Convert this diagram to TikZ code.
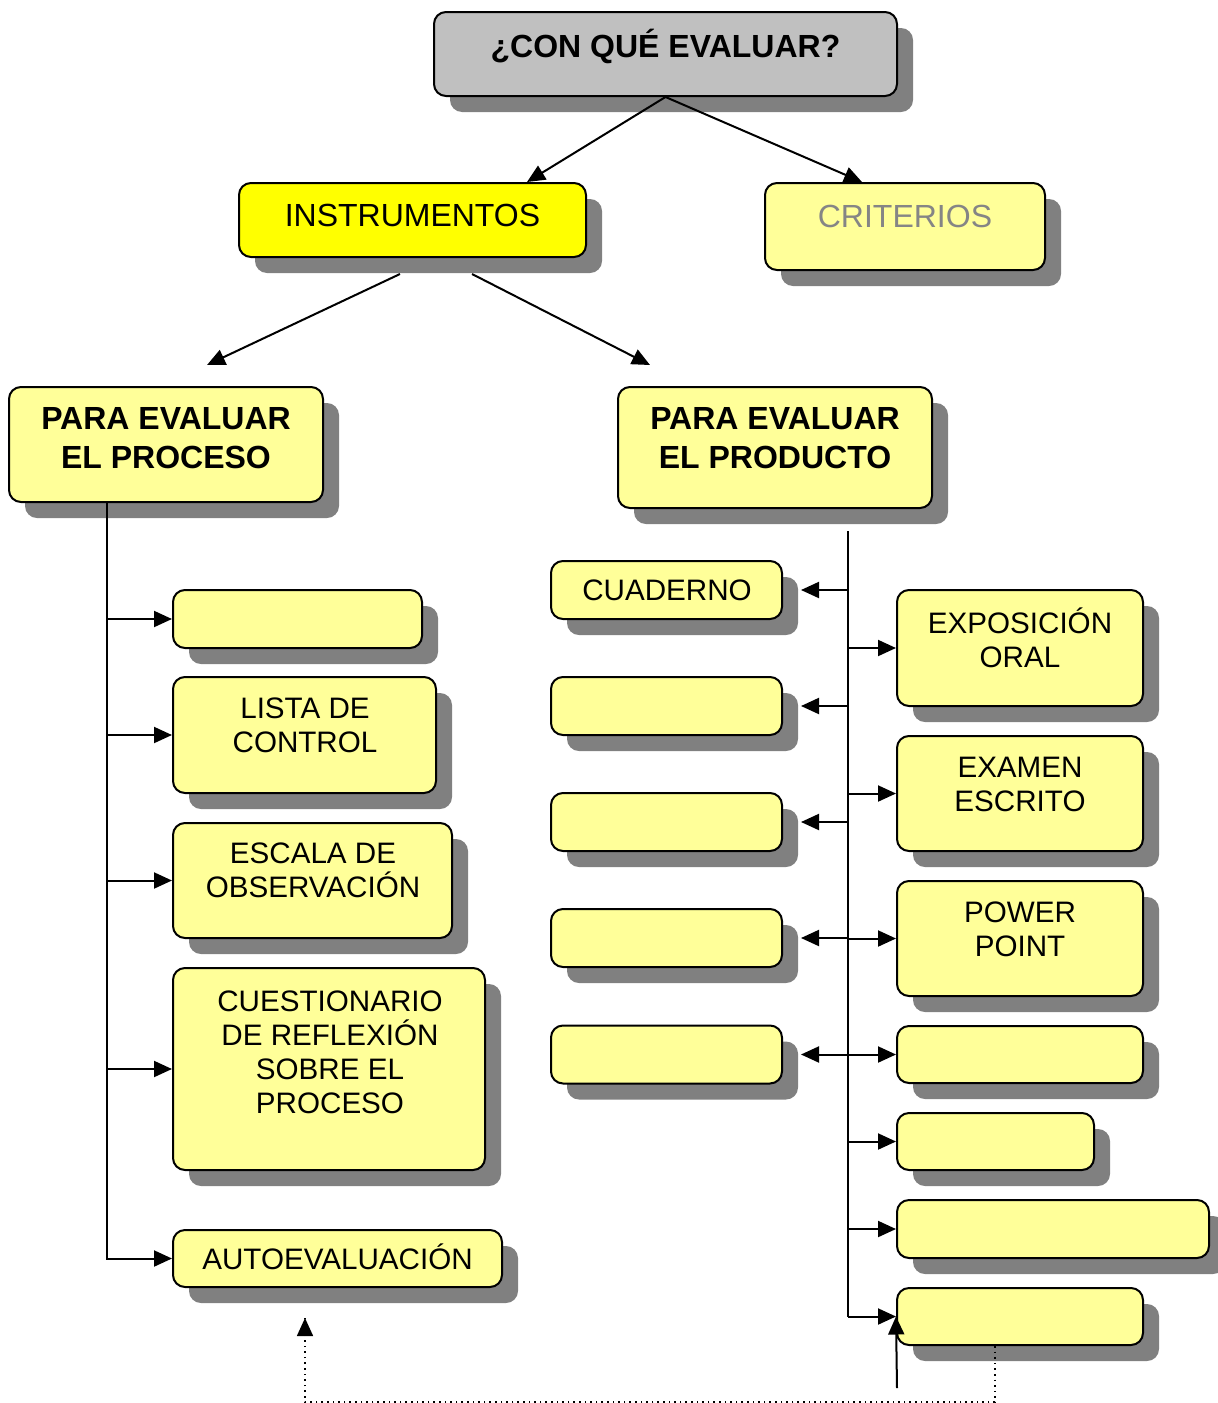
\documentclass[tikz,border=0pt]{standalone}
\usepackage{fontspec}
\setmainfont{Liberation Sans}
\usetikzlibrary{arrows.meta,shadows,calc}
\definecolor{lyel}{HTML}{FFFF99}
\definecolor{byel}{HTML}{FFFF00}
\definecolor{topgray}{HTML}{C0C0C0}
\definecolor{shgray}{HTML}{808080}
\definecolor{critgray}{HTML}{858585}
\begin{document}
\begin{tikzpicture}[x=0.5pt,y=-0.5pt,
  box/.style={draw=black,line width=1pt,rounded corners=6pt,fill=lyel,inner sep=0pt,
    drop shadow={shadow xshift=8pt,shadow yshift=-8pt,opacity=1,fill=shgray}},
  txt/.style={align=center,font=\fontsize{16pt}{17pt}\selectfont,inner sep=0pt},
  stxt/.style={align=center,font=\fontsize{14.8pt}{17pt}\selectfont,inner sep=0pt},
  btxt/.style={align=center,font=\fontsize{16pt}{19.5pt}\selectfont\bfseries,inner sep=0pt},
  conn/.style={line width=1pt,-{Triangle[length=9pt,width=8pt]}},
  trunk/.style={line width=1pt},
  dotline/.style={dotted,line width=0.8pt}]
\useasboundingbox (0,0) rectangle (1217,1403);

% top level
\node[box,fill=topgray,minimum width=231.5pt,minimum height=42pt] (top) at (665.5,54) {};
\node[btxt] (ttop) at (665.5,46) {¿CON QUÉ EVALUAR?};
\node[box,fill=byel,minimum width=173.5pt,minimum height=37pt] (inst) at (412.5,220) {};
\node[txt] (tinst) at (412.5,215) {INSTRUMENTOS};
\node[box,minimum width=140pt,minimum height=43.5pt] (crit) at (905,226.5) {};
\node[txt,text=critgray] (tcrit) at (905,216) {CRITERIOS};

% second level
\node[box,minimum width=157pt,minimum height=57.5pt] (proc) at (166,444.5) {};
\node[btxt] (tproc) at (166,438) {PARA EVALUAR\\EL PROCESO};
\node[box,minimum width=157pt,minimum height=60.5pt] (prod) at (775,447.5) {};
\node[btxt] (tprod) at (775,438) {PARA EVALUAR\\EL PRODUCTO};

% left column
\node[box,minimum width=124.5pt,minimum height=29pt] (l1) at (297.5,619) {};
\node[box,minimum width=131.5pt,minimum height=58pt] (l2) at (304.5,735) {};
\node[stxt] (tl2) at (305,725) {LISTA DE\\CONTROL};
\node[box,minimum width=139.5pt,minimum height=57.5pt] (l3) at (312.5,880.5) {};
\node[stxt] (tl3) at (313,870) {ESCALA DE\\OBSERVACIÓN};
\node[box,minimum width=156pt,minimum height=101pt] (l4) at (329,1069) {};
\node[stxt] (tl4) at (330,1052) {CUESTIONARIO\\DE REFLEXIÓN\\SOBRE EL\\PROCESO};
\node[box,minimum width=164.5pt,minimum height=28.5pt] (l5) at (337.5,1258.5) {};
\node[stxt] (tl5) at (337.5,1257) {AUTOEVALUACIÓN};

% right column, left boxes
\node[box,minimum width=115.5pt,minimum height=29pt] (c1) at (666.5,590) {};
\node[stxt] (tc1) at (667,590) {CUADERNO};
\node[box,minimum width=115.5pt,minimum height=29pt] (c2) at (666.5,706) {};
\node[box,minimum width=115.5pt,minimum height=29pt] (c3) at (666.5,822) {};
\node[box,minimum width=115.5pt,minimum height=29pt] (c4) at (666.5,938) {};
\node[box,minimum width=115.5pt,minimum height=29pt] (c5) at (666.5,1054.5) {};

% right column, right boxes
\node[box,minimum width=123pt,minimum height=58pt] (r1) at (1020,648) {};
\node[stxt] (tr1) at (1020,638) {EXPOSICIÓN\\ORAL};
\node[box,minimum width=123pt,minimum height=57.5pt] (r2) at (1020,793.5) {};
\node[stxt] (tr2) at (1020,784) {EXAMEN\\ESCRITO};
\node[box,minimum width=123pt,minimum height=57.5pt] (r3) at (1020,938.5) {};
\node[stxt] (tr3) at (1020,929) {POWER\\POINT};
\node[box,minimum width=123pt,minimum height=28.5pt] (r4) at (1020,1054.5) {};
\node[box,minimum width=98.5pt,minimum height=28.5pt] (r5) at (995.5,1141.5) {};
\node[box,minimum width=156pt,minimum height=29pt] (r6) at (1053,1229) {};
\node[box,minimum width=123pt,minimum height=28.5pt] (r7) at (1020,1316.5) {};

% helper coordinates
\coordinate (ltrunk) at (107,0);
\coordinate (rtop) at (848,531);
\coordinate (upfoot) at (897,1388);
\coordinate (dx) at (995,1402);
\coordinate (dl) at (305,1402);
\coordinate (autotip) at (305,1318);

% top connectors
\draw[conn] (top.south) -- ([xshift=57.25pt]inst.north);
\draw[conn] (top.south) -- ([xshift=-21.5pt]crit.north);
\draw[conn] ([xshift=-6.25pt,yshift=-8pt]inst.south) -- ([xshift=20.5pt,yshift=10.5pt]proc.north);
\draw[conn] ([xshift=29.75pt,yshift=-8pt]inst.south) -- ([xshift=-62.5pt,yshift=10.5pt]prod.north);

% left trunk
\foreach \b in {l1,l2,l3,l4,l5}{
  \draw[conn] (proc.south -| ltrunk) |- (\b.west);
}

% right trunk
\draw[trunk] (rtop) -- (rtop |- r7.west);
\foreach \b in {c1,c2,c3,c4,c5}{
  \draw[conn,shorten >=9pt] (rtop |- \b.east) -- (\b.east);
}
\foreach \b in {r1,r2,r3,r4,r5,r6,r7}{
  \draw[conn] (rtop |- \b.west) -- (\b.west);
}

% bottom
\draw[conn] (upfoot) -- (r7.west);
\draw[dotline] (r7.south -| dx) -- (dx) -- (dl) -- (autotip);
\draw[line width=0.8pt,-{Triangle[length=9pt,width=8pt]}] ($(autotip)+(0,10)$) -- (autotip);
\end{tikzpicture}
\end{document}
